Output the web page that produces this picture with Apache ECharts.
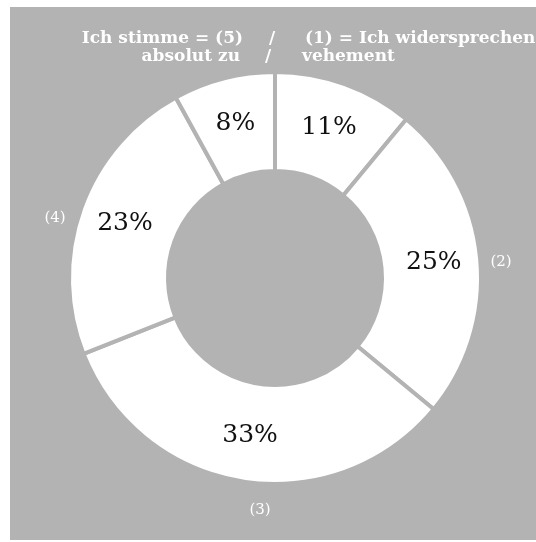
<!DOCTYPE html>
<html>
<head>
<meta charset="utf-8">
<script src="https://cdn.jsdelivr.net/npm/echarts@6/dist/echarts.min.js"></script>
<style>html,body{margin:0;padding:0;background:#fff;}#c{width:536px;height:542px;}</style>
</head>
<body>
<div id="c"></div>
<script>
var categories = ['(1)', '(2)', '(3)', '(4)', '(5)'];
var values = [11, 25, 33, 23, 8];
var outerLabels = ['(2)', '(3)', '(4)'];
var titleLine1 = ['Ich stimme = (5)', '/', '(1) = Ich widersprechen'];
var titleLine2 = ['absolut zu', '/', 'vehement'];

var GRAY = '#b3b3b3';
var serif = '"DejaVu Serif", "Liberation Serif", serif';
var chart = echarts.init(document.getElementById('c'));

function txt(text, x, y, align, size, weight) {
  return {
    type: 'text', x: x, y: y, z: 10,
    style: { text: text, fill: '#fff', font: (weight || 'bold') + ' ' + size + 'px ' + serif,
             textAlign: align, textVerticalAlign: 'middle' }
  };
}

chart.setOption({
  backgroundColor: '#fff',
  animation: false,
  graphic: [
    { type: 'rect', z: -10, shape: { x: 10, y: 7, width: 526, height: 533 }, style: { fill: GRAY } },
    txt(titleLine1[0], 243, 39, 'right', 17),
    txt(titleLine1[1], 272, 39, 'center', 17),
    txt(titleLine1[2], 305, 39, 'left', 17),
    txt(titleLine2[0], 240, 57, 'right', 17),
    txt(titleLine2[1], 268, 57, 'center', 17),
    txt(titleLine2[2], 302, 57, 'left', 17),
    txt(outerLabels[0], 501, 262, 'center', 15, 'normal'),
    txt(outerLabels[1], 260, 510, 'center', 15, 'normal'),
    txt(outerLabels[2], 55, 218, 'center', 15, 'normal')
  ],
  series: [{
    type: 'pie',
    center: [275, 278],
    radius: [107, 206],
    startAngle: 90,
    clockwise: true,
    silent: true,
    itemStyle: { color: '#fff', borderColor: GRAY, borderWidth: 4 },
    label: {
      show: true, position: 'inside', formatter: '{c}%',
      color: '#111', fontFamily: serif, fontSize: 25
    },
    labelLine: { show: false },
    data: categories.map(function (n, i) { return { name: n, value: values[i] }; })
  }]
});
</script>
</body>
</html>
